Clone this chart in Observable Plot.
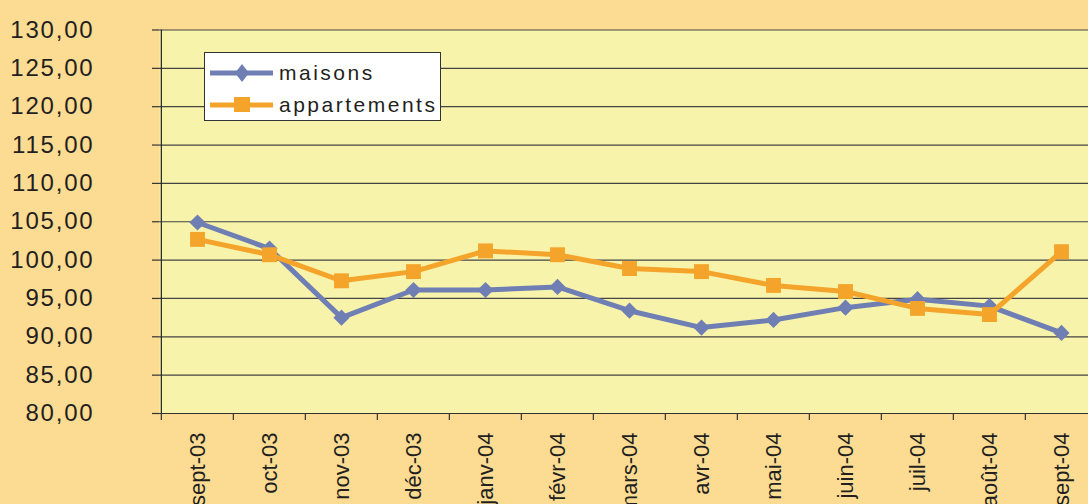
<!DOCTYPE html>
<html>
<head>
<meta charset="utf-8">
<script src="https://cdn.jsdelivr.net/npm/d3@7"></script>
<script src="https://cdn.jsdelivr.net/npm/@observablehq/plot@0.6"></script>
<style>
  html, body { margin: 0; padding: 0; background: #FCDB92; }
  #wrap { position: relative; width: 1088px; height: 504px; overflow: hidden; background: #FCDB92; }
  #wrap svg g[aria-label="y-axis tick label"] text { letter-spacing: 1.8px; }
  #legend { position: absolute; left: 204px; top: 52px; width: 235px; height: 67px; background: #fff; border: 1px solid #333; font-family: "Liberation Sans", Arial, sans-serif; }
  #legend .row { position: absolute; left: 0; height: 24px; }
  #legend svg { position: absolute; left: 0; top: 0; }
  #legend span { position: absolute; left: 74px; top: -1px; font-size: 21px; letter-spacing: 2.5px; color: #231f20; line-height: 24px; white-space: nowrap; }
</style>
</head>
<body>
<div id="wrap"></div>
<script>
const months = ["sept-03","oct-03","nov-03","déc-03","janv-04","févr-04","mars-04","avr-04","mai-04","juin-04","juil-04","août-04","sept-04"];
const maisons = [104.9, 101.5, 92.5, 96.1, 96.1, 96.5, 93.4, 91.2, 92.2, 93.8, 94.9, 94.0, 90.5];
const appartements = [102.7, 100.7, 97.3, 98.5, 101.2, 100.7, 98.9, 98.5, 96.7, 95.9, 93.7, 92.9, 101.1];
const yTicks = [80, 85, 90, 95, 100, 105, 110, 115, 120, 125, 130];
const seriesNames = ["maisons", "appartements"];
const seriesColors = ["#6F7EB3", "#F4A42A"];

const dataM = months.map((m, i) => ({month: m, value: maisons[i]}));
const dataA = months.map((m, i) => ({month: m, value: appartements[i]}));

const xRange = [159, 1099];
const step = (xRange[1] - xRange[0]) / months.length;
const fmt = d => d.toFixed(2).replace(".", ",");

const chart = Plot.plot({
  width: 1088,
  height: 504,
  marginLeft: 159,
  marginRight: 0,
  marginTop: 29.5,
  marginBottom: 91,
  style: {background: "transparent", fontFamily: "Liberation Sans, Arial, sans-serif", color: "#231f20"},
  x: {type: "point", domain: months, range: xRange, padding: 0.5, label: null},
  y: {domain: [80, 130], label: null},
  marks: [
    Plot.frame({fill: "#F8F3AA", stroke: null}),
    Plot.gridY(yTicks, {stroke: "#444", strokeOpacity: 1, strokeWidth: 1.2}),
    Plot.ruleY([80], {stroke: "#333", strokeWidth: 1.2}),
    Plot.ruleX([months[0]], {dx: -step / 2, stroke: "#222", strokeWidth: 1.2}),
    Plot.axisY({ticks: yTicks, tickSize: 7, tickPadding: 58, tickFormat: fmt, fontSize: 24, label: null, stroke: "#333", strokeWidth: 1.2}),
    Plot.axisX({tickSize: 7, dx: -step / 2, tickFormat: () => "", label: null, stroke: "#333", strokeWidth: 1.2}),
    Plot.axisX({tickSize: 0, tickRotate: -90, tickPadding: 19, fontSize: 22, label: null}),
    Plot.line(dataM, {x: "month", y: "value", stroke: seriesColors[0], strokeWidth: 5}),
    Plot.dot(dataM, {x: "month", y: "value", symbol: "diamond2", r: 7.3, fill: seriesColors[0], stroke: "none"}),
    Plot.line(dataA, {x: "month", y: "value", stroke: seriesColors[1], strokeWidth: 5}),
    Plot.dot(dataA, {x: "month", y: "value", symbol: "square", r: 8.4, fill: seriesColors[1], stroke: "none"})
  ]
});

const wrap = document.getElementById("wrap");
wrap.appendChild(chart);

// legend
const legend = document.createElement("div");
legend.id = "legend";
const markerSvg = [
  `<polygon points="37,11 44,20 37,29 30,20" fill="${seriesColors[0]}"/>`,
  `<rect x="29" y="12" width="16" height="15" fill="${seriesColors[1]}"/>`
];
seriesNames.forEach((name, i) => {
  const row = document.createElement("div");
  row.className = "row";
  row.style.top = (i === 0 ? 0 : 32) + "px";
  row.style.width = "235px";
  row.style.height = "40px";
  row.innerHTML = `<svg width="72" height="40"><line x1="5" x2="68" y1="20" y2="20" stroke="${seriesColors[i]}" stroke-width="5"/>${markerSvg[i]}</svg><span style="top:8px">${name}</span>`;
  legend.appendChild(row);
});
wrap.appendChild(legend);
</script>
</body>
</html>
